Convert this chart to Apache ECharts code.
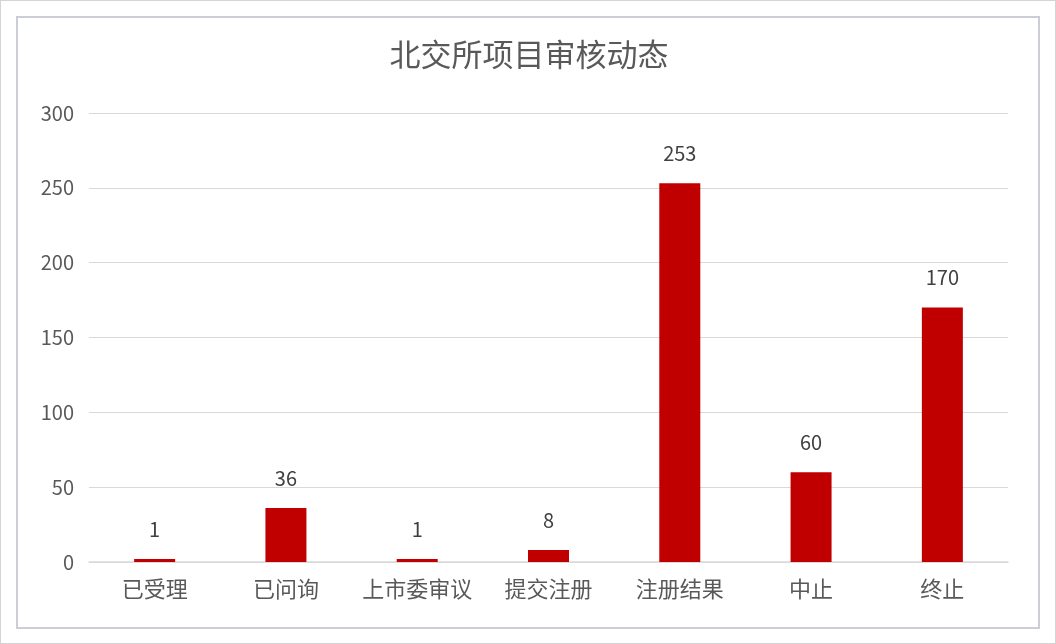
<!DOCTYPE html>
<html>
<head>
<meta charset="utf-8">
<script src="https://cdn.jsdelivr.net/npm/echarts@6/dist/echarts.min.js"></script>
<style>
html,body{margin:0;padding:0;background:#fff;}
#wrap{position:relative;width:1056px;height:644px;box-sizing:border-box;border:1px solid #d4d4d4;}
#frame{position:absolute;left:15px;top:15px;width:1024px;height:613px;box-sizing:border-box;border:2px solid #cbced6;pointer-events:none;}
#chart{position:absolute;left:0;top:0;width:1056px;height:644px;}
</style>
</head>
<body>
<div id="wrap">
<div id="chart"></div>
<div id="frame"></div>
</div>
<script>
const titleText = '北交所项目审核动态';
const categories = ['已受理', '已问询', '上市委审议', '提交注册', '注册结果', '中止', '终止'];
const values = [1, 36, 1, 8, 253, 60, 170];
const yTicks = { min: 0, max: 300, interval: 50 };

const chart = echarts.init(document.getElementById('chart'));
const font = '"Noto Sans CJK SC", "Microsoft YaHei", sans-serif';
chart.setOption({
  animation: false,
  title: {
    text: titleText,
    left: 'center',
    top: 33,
    textStyle: { fontFamily: font, fontSize: 31, fontWeight: 'normal', color: '#595959' }
  },
  grid: { left: 88, right: 49, top: 112, bottom: 83 },
  xAxis: {
    type: 'category',
    data: categories,
    axisLine: { lineStyle: { color: '#d9d9d9', width: 1.5 } },
    axisTick: { show: false },
    axisLabel: { interval: 0, fontFamily: font, fontSize: 22, color: '#595959', margin: 16 }
  },
  yAxis: {
    type: 'value',
    min: yTicks.min,
    max: yTicks.max,
    interval: yTicks.interval,
    axisLine: { show: false },
    axisTick: { show: false },
    splitLine: { lineStyle: { color: '#d9d9d9', width: 1.2 } },
    axisLabel: { fontFamily: font, fontSize: 20, color: '#595959', margin: 15 }
  },
  series: [{
    type: 'bar',
    data: values,
    barWidth: 41,
    barMinHeight: 3,
    itemStyle: { color: '#C00000' },
    label: {
      show: true,
      position: 'top',
      distance: 20,
      fontFamily: font,
      fontSize: 20,
      color: '#404040'
    }
  }]
});
</script>
</body>
</html>
